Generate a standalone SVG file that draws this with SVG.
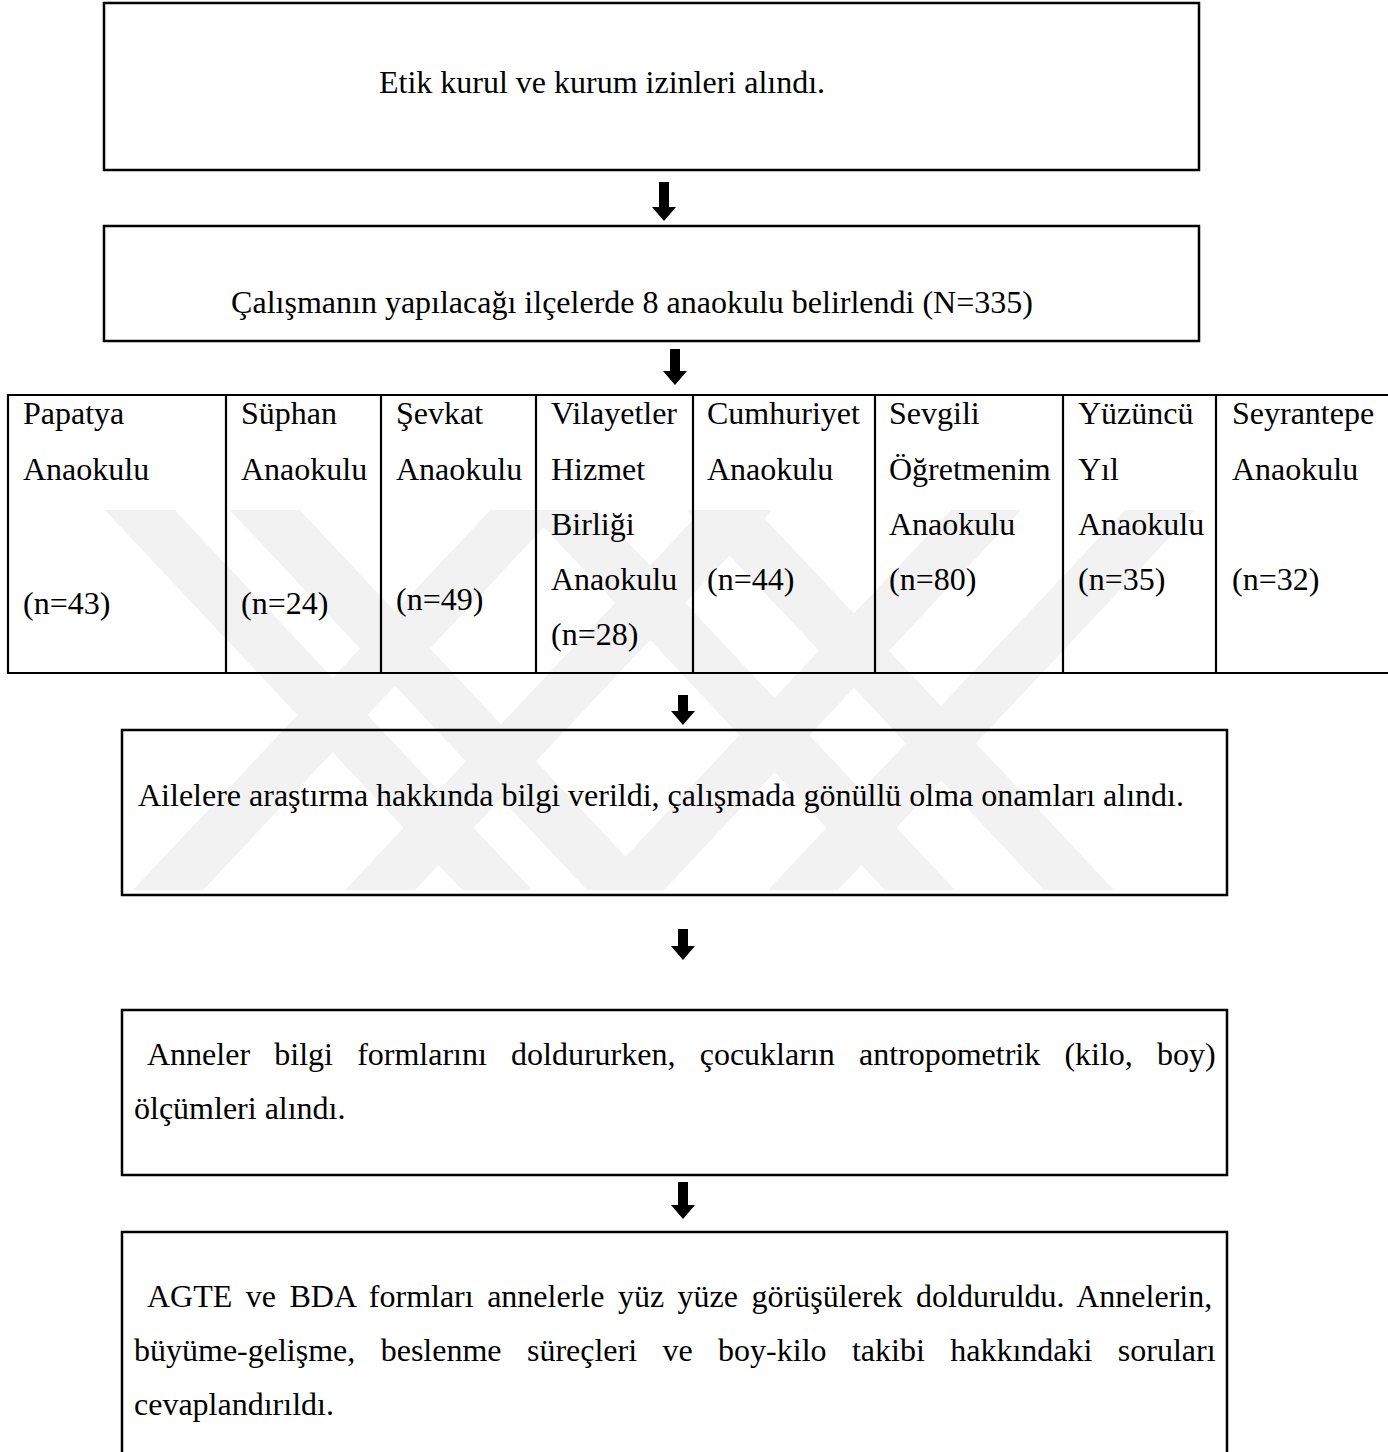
<svg xmlns="http://www.w3.org/2000/svg" width="1388" height="1452" viewBox="0 0 1388 1452">
<style>
  .box { fill: none; stroke: #000; stroke-width: 2.5; }
  .grid { stroke: #000; stroke-width: 2.2; fill: none; }
  .t { font-family: "Liberation Serif", "Times New Roman", serif; font-size: 32px; fill: #000; }
  .arrow { fill: #000; stroke: none; }
  .wm { fill: #f2f2f2; }
</style>
<defs>
  <clipPath id="wmclip"><rect x="0" y="510" width="1388" height="380"/></clipPath>
</defs>
<rect width="1388" height="1452" fill="#fff"/>
<g id="watermark" clip-path="url(#wmclip)">
  <polygon class="wm" points="100,505 170,505 532,890 462,890"/>
  <polygon class="wm" points="225,505 295,505 657,890 587,890"/>
  <polygon class="wm" points="523,505 593,505 955,890 885,890"/>
  <polygon class="wm" points="682,505 752,505 1114,890 1044,890"/>
  <polygon class="wm" points="133,890 203,890 565,505 495,505"/>
  <polygon class="wm" points="345,890 415,890 777,505 707,505"/>
  <polygon class="wm" points="594,890 664,890 1026,505 956,505"/>
  <polygon class="wm" points="768,890 838,890 1200,505 1130,505"/>
</g>
<g id="connectors">
  <polygon class="arrow" points="659,182 669,182 669,207 676,207 664,221 652,207 659,207"/>
  <polygon class="arrow" points="670,349 680,349 680,371 687,371 675,385 663,371 670,371"/>
  <polygon class="arrow" points="678,695 688,695 688,711 695,711 683,725 671,711 678,711"/>
  <polygon class="arrow" points="678,929 688,929 688,946 695,946 683,960 671,946 678,946"/>
  <polygon class="arrow" points="678,1182 688,1182 688,1205 695,1205 683,1219 671,1205 678,1205"/>
</g>
<g id="n1">
  <rect class="box" x="104" y="3" width="1095" height="167"/>
  <text class="t" x="602" y="93" text-anchor="middle">Etik kurul ve kurum izinleri alındı.</text>
</g>
<g id="n2">
  <rect class="box" x="104" y="226" width="1095" height="115"/>
  <text class="t" x="632" y="313" text-anchor="middle">Çalışmanın yapılacağı ilçelerde 8 anaokulu belirlendi (N=335)</text>
</g>
<g id="n3">
  <line class="grid" x1="8" y1="395" x2="1388" y2="395"/>
  <line class="grid" x1="8" y1="673" x2="1388" y2="673"/>
  <line class="grid" x1="8" y1="394" x2="8" y2="674"/>
  <line class="grid" x1="226" y1="395" x2="226" y2="673"/>
  <line class="grid" x1="381" y1="395" x2="381" y2="673"/>
  <line class="grid" x1="536" y1="395" x2="536" y2="673"/>
  <line class="grid" x1="693" y1="395" x2="693" y2="673"/>
  <line class="grid" x1="875" y1="395" x2="875" y2="673"/>
  <line class="grid" x1="1063" y1="395" x2="1063" y2="673"/>
  <line class="grid" x1="1216" y1="395" x2="1216" y2="673"/>
  <g id="c1"><text class="t" x="23" y="424">Papatya</text><text class="t" x="23" y="480">Anaokulu</text><text class="t" x="23" y="614">(n=43)</text></g>
  <g id="c2"><text class="t" x="241" y="424">Süphan</text><text class="t" x="241" y="480">Anaokulu</text><text class="t" x="241" y="614">(n=24)</text></g>
  <g id="c3"><text class="t" x="396" y="424">Şevkat</text><text class="t" x="396" y="480">Anaokulu</text><text class="t" x="396" y="610">(n=49)</text></g>
  <g id="c4"><text class="t" x="551" y="424">Vilayetler</text><text class="t" x="551" y="480">Hizmet</text><text class="t" x="551" y="535">Birliği</text><text class="t" x="551" y="590">Anaokulu</text><text class="t" x="551" y="645">(n=28)</text></g>
  <g id="c5"><text class="t" x="707" y="424">Cumhuriyet</text><text class="t" x="707" y="480">Anaokulu</text><text class="t" x="707" y="590">(n=44)</text></g>
  <g id="c6"><text class="t" x="889" y="424">Sevgili</text><text class="t" x="889" y="480">Öğretmenim</text><text class="t" x="889" y="535">Anaokulu</text><text class="t" x="889" y="590">(n=80)</text></g>
  <g id="c7"><text class="t" x="1078" y="424">Yüzüncü</text><text class="t" x="1078" y="480">Yıl</text><text class="t" x="1078" y="535">Anaokulu</text><text class="t" x="1078" y="590">(n=35)</text></g>
  <g id="c8"><text class="t" x="1232" y="424">Seyrantepe</text><text class="t" x="1232" y="480">Anaokulu</text><text class="t" x="1232" y="590">(n=32)</text></g>
</g>
<g id="n4">
  <rect class="box" x="122" y="730" width="1105" height="165"/>
  <text class="t" x="138" y="806">Ailelere araştırma hakkında bilgi verildi, çalışmada gönüllü olma onamları alındı.</text>
</g>
<g id="n5">
  <rect class="box" x="122" y="1010" width="1105" height="165"/>
  <text class="t" x="147" y="1065" word-spacing="16.2">Anneler bilgi formlarını doldururken, çocukların antropometrik (kilo, boy)</text>
  <text class="t" x="134" y="1119">ölçümleri alındı.</text>
</g>
<g id="n6">
  <rect class="box" x="122" y="1232" width="1105" height="240"/>
  <text class="t" x="147" y="1307" word-spacing="5.5">AGTE ve BDA formları annelerle yüz yüze görüşülerek dolduruldu. Annelerin,</text>
  <text class="t" x="134" y="1361" word-spacing="17.4">büyüme-gelişme, beslenme süreçleri ve boy-kilo takibi hakkındaki soruları</text>
  <text class="t" x="134" y="1415">cevaplandırıldı.</text>
</g>
</svg>
